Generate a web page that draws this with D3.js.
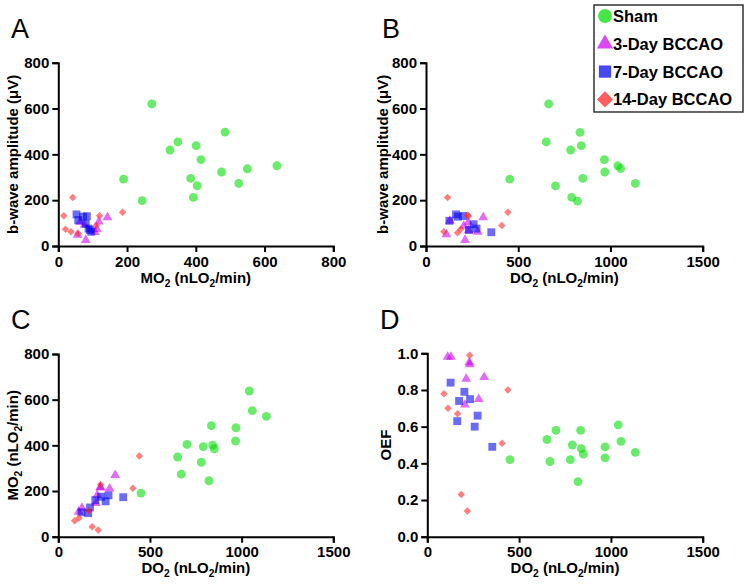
<!DOCTYPE html>
<html>
<head>
<meta charset="utf-8">
<script src="https://cdn.jsdelivr.net/npm/d3@7"></script>
<style>
body { margin: 0; background: #fff; }
svg { font-family: "Liberation Sans", Arial, Helvetica, sans-serif; }
</style>
</head>
<body>
<svg width="750" height="588"></svg>
<script>
const groups = ["Sham", "3-Day BCCAO", "7-Day BCCAO", "14-Day BCCAO"];

// panel A: MO2 vs b-wave amplitude
const aSham = [[272,620],[325,419],[348,454],[401,438],[415,377],[385,295],[404,263],[393,212],[485,497],[475,323],[525,273],[550,337],[636,350],[190,292],[244,198]];
const a3Day = [[56,48],[63,104],[118,106],[112,74],[80,26],[143,125],[107,60],[76,92]];
const a7Day = [[53,138],[83,130],[58,113],[72,128],[80,97],[88,76],[92,70],[96,62]];
const a14Day = [[42,212],[16,132],[120,132],[187,147],[21,73],[37,62],[58,55],[111,89]];

// panel B: DO2 vs b-wave amplitude
const bSham = [[665,620],[652,454],[454,292],[784,419],[835,496],[842,438],[967,377],[969,323],[1040,350],[1055,338],[1135,273],[702,262],[850,295],[790,212],[821,196]];
const b3Day = [[111,51],[129,110],[229,103],[231,68],[212,26],[310,125],[280,62],[205,88]];
const b7Day = [[127,110],[163,138],[173,128],[202,131],[233,70],[258,95],[274,76],[354,60]];
const b14Day = [[97,62],[117,212],[171,58],[188,73],[226,135],[230,130],[411,89],[444,147]];

// panel C: DO2 vs MO2
const cSham = [[1042,638],[1058,552],[1135,527],[835,486],[969,477],[702,404],[791,394],[842,401],[851,385],[967,419],[651,349],[780,326],[671,274],[822,245],[451,191]];
const c3Day = [[111,109],[129,126],[229,217],[231,215],[212,182],[310,269],[280,210],[205,147]];
const c7Day = [[127,107],[202,160],[173,128],[233,175],[274,181],[163,103],[258,155],[354,173]];
const c14Day = [[89,70],[113,82],[167,114],[185,44],[218,29],[231,229],[407,212],[442,353]];

// panel D: DO2 vs OEF
const dSham = [[450,0.42],[652,0.53],[668,0.41],[701,0.58],[779,0.42],[790,0.50],[821,0.30],[835,0.58],[839,0.48],[850,0.45],[968,0.49],[968,0.43],[1040,0.61],[1055,0.52],[1133,0.46]];
const d3Day = [[111,0.98],[129,0.98],[229,0.95],[231,0.94],[212,0.86],[310,0.87],[280,0.75],[205,0.72]];
const d7Day = [[127,0.84],[202,0.79],[173,0.74],[233,0.75],[274,0.66],[163,0.63],[258,0.60],[354,0.49]];
const d14Day = [[91,0.78],[113,0.70],[165,0.67],[185,0.23],[218,0.14],[231,0.99],[407,0.51],[439,0.80]];

const colors = ["#00dd00", "#cc00ee", "#0000ee", "#ff2020"];
const shapes = [d3.symbolCircle, d3.symbolTriangle, d3.symbolSquare, d3.symbolSquare];
const sizes = [62, 42, 62, 28];
const rotate = [0, 0, 0, 45];

const doTitle = [["DO"], ["2", 1], [" (nLO"], ["2", 1], ["/min)"]];
const moTitle = [["MO"], ["2", 1], [" (nLO"], ["2", 1], ["/min)"]];

const panels = [
	{ letter: "A", lx: 11, ly: 38, data: [aSham, a3Day, a7Day, a14Day],
		xDom: [0, 800], xTicks: [0, 200, 400, 600, 800], yDom: [0, 800], yTicks: [0, 200, 400, 600, 800], fmt: d3.format("d"),
		xr: [58.3, 333.3], yr: [246, 62.7], xTitle: moTitle, yTitle: [["b-wave amplitude (μV)"]], ytx: 18 },
	{ letter: "B", lx: 382, ly: 38, data: [bSham, b3Day, b7Day, b14Day],
		xDom: [0, 1500], xTicks: [0, 500, 1000, 1500], yDom: [0, 800], yTicks: [0, 200, 400, 600, 800], fmt: d3.format("d"),
		xr: [426, 702.7], yr: [246, 62.7], xTitle: doTitle, yTitle: [["b-wave amplitude (μV)"]], ytx: 388 },
	{ letter: "C", lx: 11, ly: 329, data: [cSham, c3Day, c7Day, c14Day],
		xDom: [0, 1500], xTicks: [0, 500, 1000, 1500], yDom: [0, 800], yTicks: [0, 200, 400, 600, 800], fmt: d3.format("d"),
		xr: [58.3, 333.3], yr: [536.7, 354], xTitle: doTitle, yTitle: moTitle, ytx: 18 },
	{ letter: "D", lx: 380, ly: 329, data: [dSham, d3Day, d7Day, d14Day],
		xDom: [0, 1500], xTicks: [0, 500, 1000, 1500], yDom: [0, 1], yTicks: [0, 0.2, 0.4, 0.6, 0.8, 1.0], fmt: d3.format(".1f"),
		xr: [427.3, 702.7], yr: [536.7, 353.3], xTitle: doTitle, yTitle: [["OEF"]], ytx: 391 }
];

const svg = d3.select("svg");

function addTitle(sel, parts, size) {
	parts.forEach(p => {
		const t = sel.append("tspan").text(p[0]);
		if (p[1]) t.attr("font-size", size * 0.68).attr("dy", 4);
		else if (sel.selectAll("tspan").size() > 1) t.attr("dy", -4);
	});
}

panels.forEach(p => {
	const x = d3.scaleLinear().domain(p.xDom).range(p.xr);
	const y = d3.scaleLinear().domain(p.yDom).range(p.yr);
	const g = svg.append("g");

	g.append("text").attr("x", p.lx).attr("y", p.ly)
		.attr("font-size", 27).text(p.letter);

	const xa = g.append("g").attr("transform", "translate(0," + p.yr[0] + ")")
		.call(d3.axisBottom(x).tickValues(p.xTicks).tickSize(6).tickPadding(4).tickFormat(d3.format("d")));
	const ya = g.append("g").attr("transform", "translate(" + p.xr[0] + ",0)")
		.call(d3.axisLeft(y).tickValues(p.yTicks).tickSize(6).tickPadding(3).tickFormat(p.fmt));
	[xa, ya].forEach(a => {
		a.select(".domain").attr("stroke", "#000").attr("stroke-width", 2);
		a.selectAll(".tick line").attr("stroke", "#000").attr("stroke-width", 2);
		a.selectAll(".tick text").attr("font-size", 15).attr("font-weight", "bold")
			.attr("font-family", "'Liberation Sans', Arial, sans-serif").attr("fill", "#000");
	});

	const xt = g.append("text").attr("x", (p.xr[0] + p.xr[1]) / 2).attr("y", p.yr[0] + 36.5)
		.attr("text-anchor", "middle").attr("font-size", 15).attr("font-weight", "bold");
	addTitle(xt, p.xTitle, 15);

	const yt = g.append("text")
		.attr("transform", "translate(" + p.ytx + "," + (p.yr[0] + p.yr[1]) / 2 + ") rotate(-90)")
		.attr("text-anchor", "middle").attr("font-size", 15).attr("font-weight", "bold");
	addTitle(yt, p.yTitle, 15);

	p.data.forEach((pts, gi) => {
		g.append("g").selectAll("path").data(pts).enter().append("path")
			.attr("d", d3.symbol().type(shapes[gi]).size(sizes[gi]))
			.attr("transform", d => "translate(" + x(d[0]) + "," + y(d[1]) + ") rotate(" + rotate[gi] + ")")
			.attr("fill", colors[gi]).attr("fill-opacity", 0.58);
	});
});

// legend
const legend = svg.append("g");
legend.append("rect").attr("x", 594).attr("y", 5).attr("width", 149).attr("height", 107)
	.attr("fill", "#fff").attr("stroke", "#333").attr("stroke-width", 1.5);
const legendSizes = [150, 115, 150, 130];
groups.forEach((name, i) => {
	const ly = 16 + i * 27.8;
	legend.append("path")
		.attr("d", d3.symbol().type(shapes[i]).size(legendSizes[i]))
		.attr("transform", "translate(605," + ly + ") rotate(" + rotate[i] + ")")
		.attr("fill", colors[i]).attr("fill-opacity", 0.72);
	legend.append("text").attr("x", 613).attr("y", ly + 6)
		.attr("font-size", 16.5).attr("font-weight", "bold").text(name);
});
</script>
</body>
</html>
